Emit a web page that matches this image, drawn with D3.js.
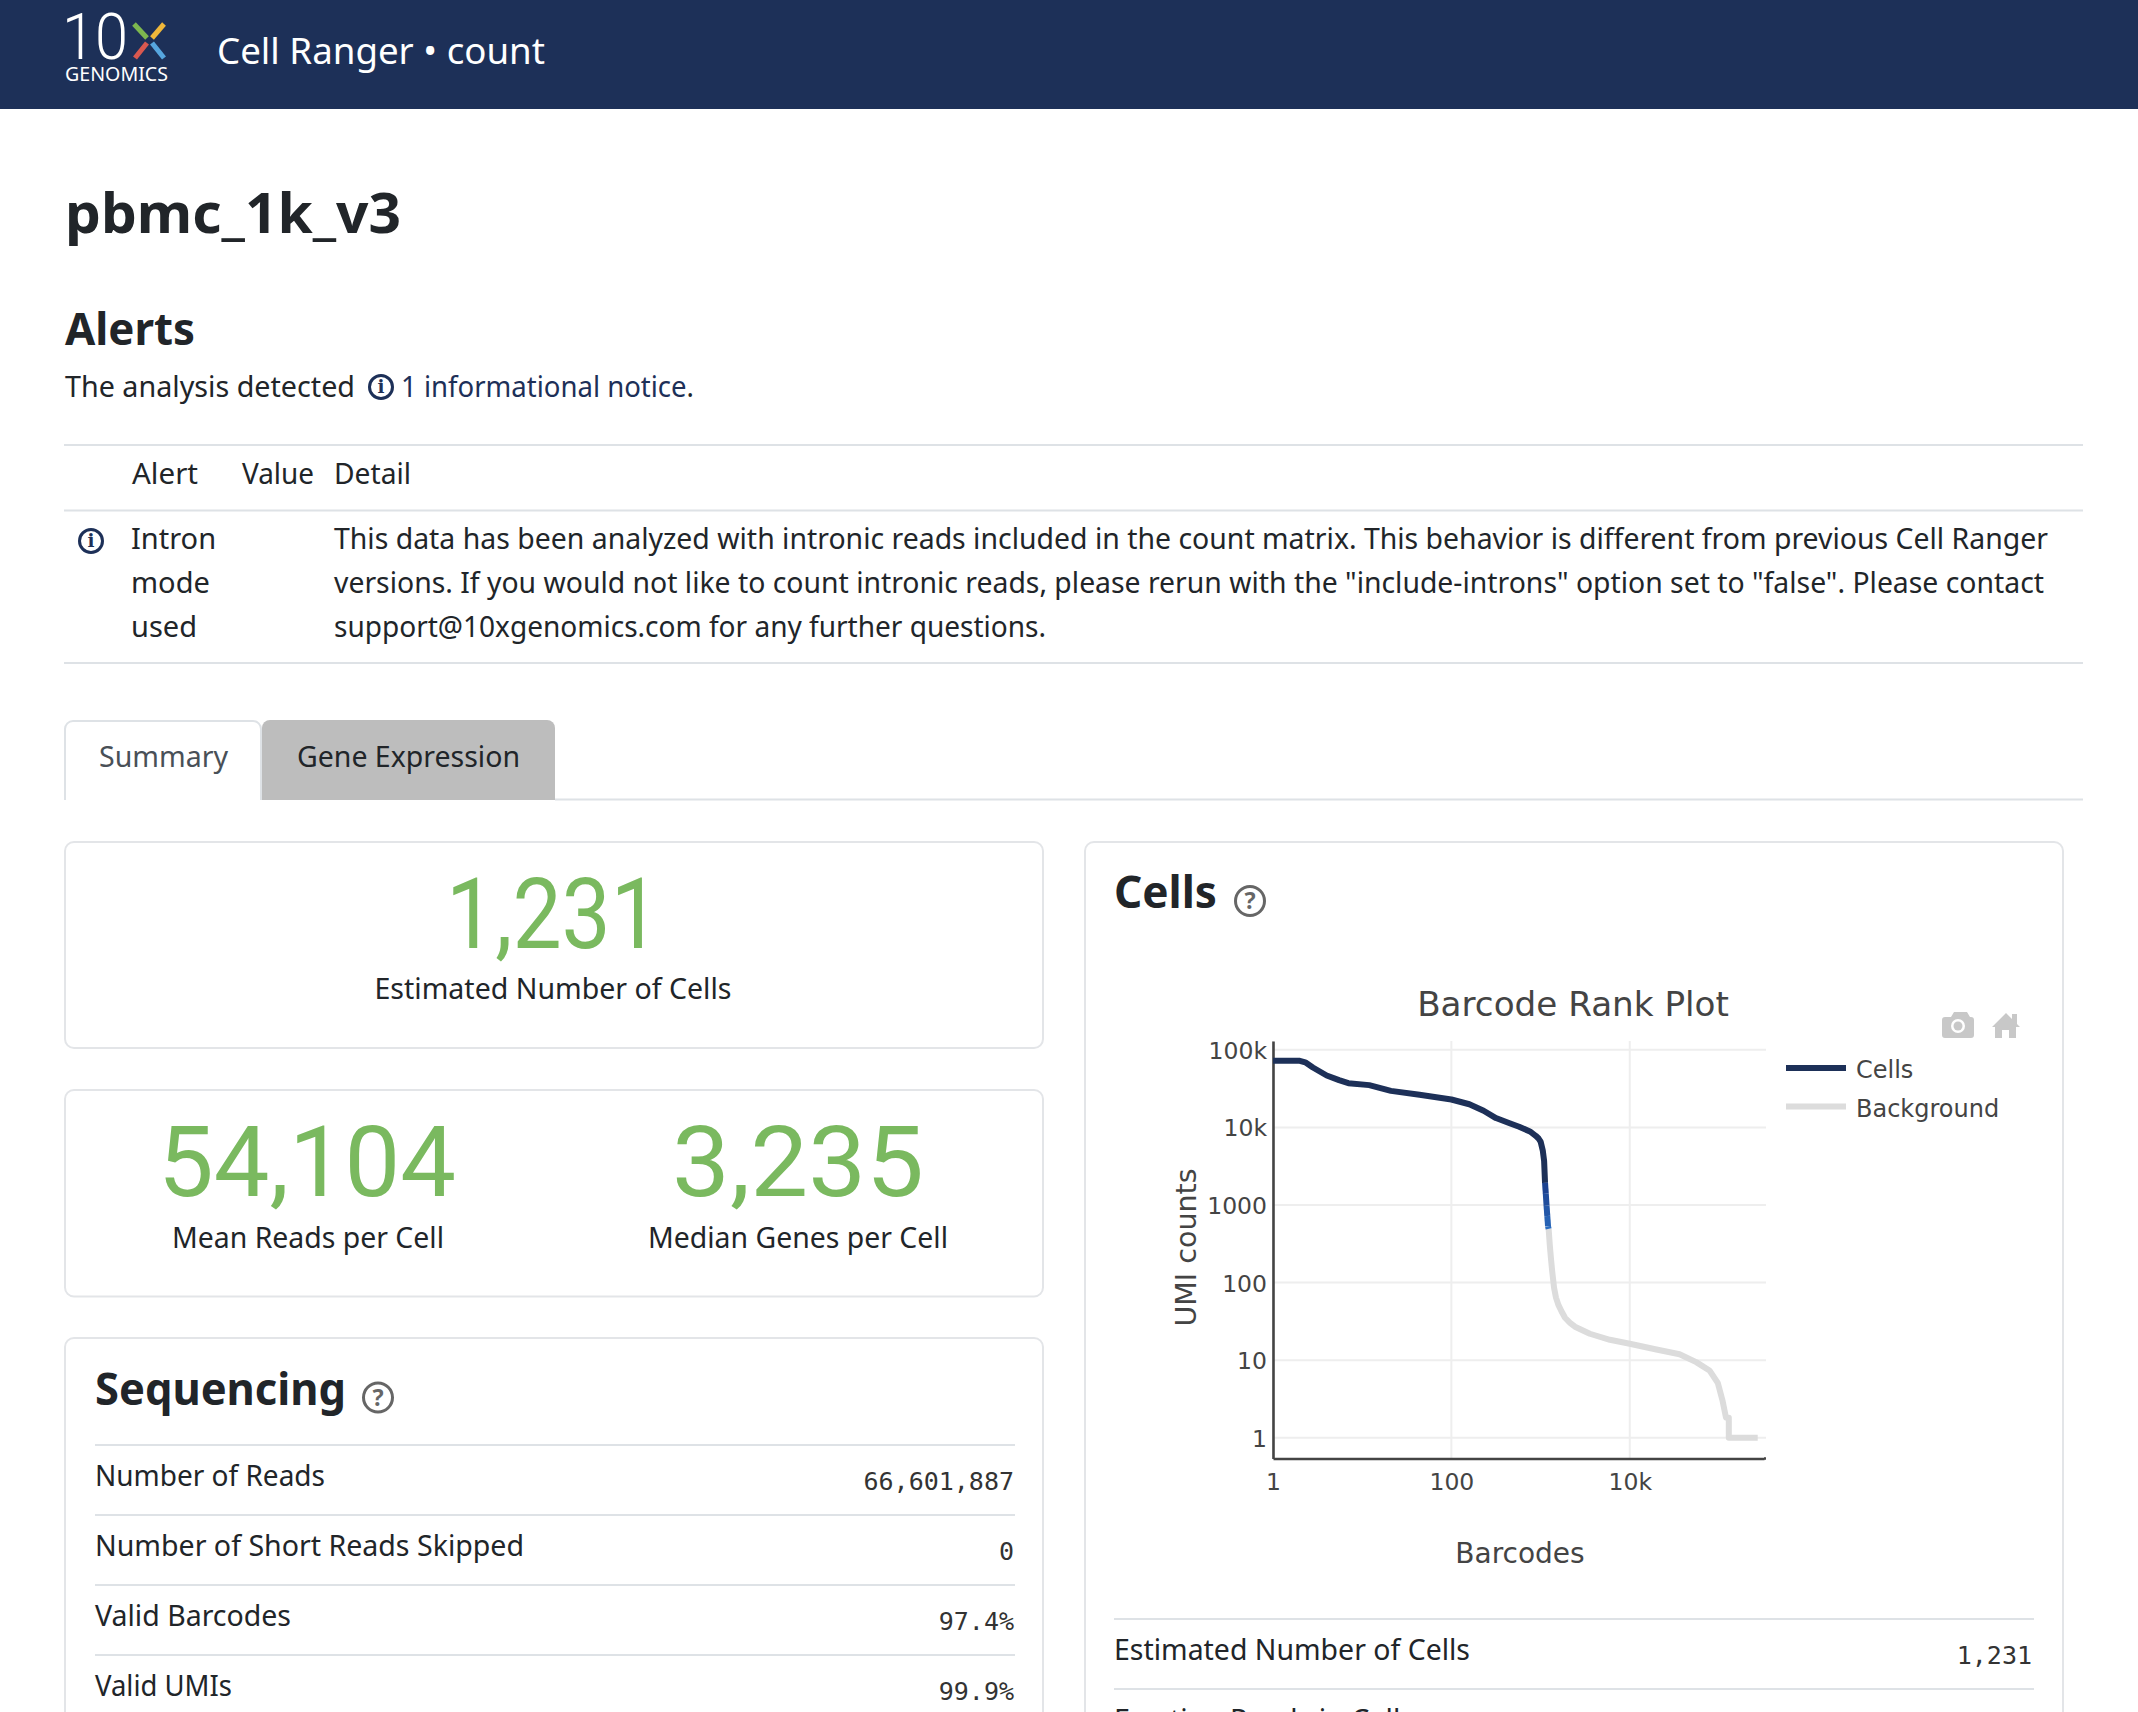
<!DOCTYPE html>
<html>
<head>
<meta charset="utf-8">
<title>pbmc_1k_v3</title>
<script src="https://cdn.jsdelivr.net/npm/d3@7"></script>
<style>
    html, body { margin: 0; padding: 0; background: #fff; overflow: hidden; }
    svg { display: block; }
</style>
</head>
<body>
<script>
// barcode rank curve
const cellsRank = [1, 2, 2.3, 2.8, 4, 5.5, 7, 12, 21, 44, 100, 159, 230, 316, 450, 575, 760, 883, 950, 1004, 1060, 1096, 1122]
const cellsUmi = [72100, 72100, 69000, 59200, 46700, 40700, 37200, 35100, 29600, 26300, 22900, 19900, 16400, 13200, 11300, 10200, 8870, 7800, 7200, 6500, 5000, 3715, 1932]
const mixedRank = [1122, 1145, 1167, 1190, 1213, 1231]
const mixedUmi = [1932, 1400, 977, 720, 530, 493]
const backgroundRank = [1231, 1270, 1310, 1350, 1416, 1489, 1580, 1710, 1880, 2140, 2430, 3570, 5990, 10000, 19900, 36200, 55600, 78300, 97000, 110000, 120000, 129000, 129000, 272000]
const backgroundUmi = [493, 300, 200, 140, 86, 64, 52, 43, 35.2, 30.3, 27, 21.9, 18.3, 16.3, 13.7, 11.9, 9.44, 7.37, 5.1, 2.97, 1.81, 1.81, 1, 1]

const xTicks = [1, 100, 10000]
const xTickLabels = ["1", "100", "10k"]
const yTicks = [1, 10, 100, 1000, 10000, 100000]
const yTickLabels = ["1", "10", "100", "1000", "10k", "100k"]
const legendNames = ["Cells", "Background"]

const sequencingLabels = ["Number of Reads", "Number of Short Reads Skipped", "Valid Barcodes", "Valid UMIs"]
const sequencingValues = ["66,601,887", "0", "97.4%", "99.9%"]
const sequencingWidths = [230, 429, 196, 137]
const cellsLabels = ["Estimated Number of Cells", "Fraction Reads in Cells"]
const cellsValues = ["1,231", ""]
const detailLines = [
    "This data has been analyzed with intronic reads included in the count matrix. This behavior is different from previous Cell Ranger",
    "versions. If you would not like to count intronic reads, please rerun with the \"include-introns\" option set to \"false\". Please contact",
    "support@10xgenomics.com for any further questions."
]
const detailWidths = [1714, 1710, 712]
const introLines = ["Intron", "mode", "used"]

const navy = "#1d3058"
const ink = "#212529"
const rule = "#dee2e6"
const green = "#7ab95f"
const bodyFont = "'Noto Sans', sans-serif"
const monoFont = "'DejaVu Sans Mono', monospace"
const plotFont = "'DejaVu Sans', sans-serif"
const bigFont = "'Roboto', sans-serif"

const svg = d3.select("body").append("svg").attr("width", 2138).attr("height", 1712)
svg.append("rect").attr("width", 2138).attr("height", 1712).attr("fill", "#fff")

function label(x, y, str, o = {}) {
    const t = svg.append("text")
        .attr("x", x).attr("y", y)
        .attr("font-family", o.font || bodyFont)
        .attr("font-size", o.size || 29)
        .attr("font-weight", o.weight || 400)
        .attr("fill", o.fill || ink)
        .attr("text-anchor", o.anchor || "start")
        .text(str)
    if (o.width) t.attr("textLength", o.width).attr("lengthAdjust", "spacingAndGlyphs")
    return t
}

function hline(x1, x2, y, color = rule, w = 2) {
    svg.append("line").attr("x1", x1).attr("x2", x2).attr("y1", y).attr("y2", y)
        .attr("stroke", color).attr("stroke-width", w)
}

function badge(cx, cy, r, mark, color, w) {
    svg.append("circle").attr("cx", cx).attr("cy", cy).attr("r", r)
        .attr("fill", "none").attr("stroke", color).attr("stroke-width", w)
    label(cx, cy + r * 0.56, mark, { size: r * 1.6, weight: 700, fill: color, anchor: "middle", font: mark === "i" ? "'DejaVu Serif', serif" : bodyFont })
}

function card(x, y, w, h) {
    svg.append("rect").attr("x", x).attr("y", y).attr("width", w).attr("height", h).attr("rx", 9)
        .attr("fill", "#fff").attr("stroke", "#e3e5e8").attr("stroke-width", 2)
}

// header bar and logo
svg.append("rect").attr("width", 2138).attr("height", 109).attr("fill", navy)
label(62, 59, "10", { size: 65, weight: 300, fill: "#fff", width: 66, font: bigFont })
const logoLegs = [
    [134, 24, 147, 38, "#7db84f"], [164, 24, 152, 38, "#efb73a"],
    [147, 43, 135, 58, "#d9584f"], [152, 43, 164, 58, "#56a6df"]
]
svg.selectAll("line.leg").data(logoLegs).enter().append("line")
    .attr("class", "leg")
    .attr("x1", d => d[0]).attr("y1", d => d[1]).attr("x2", d => d[2]).attr("y2", d => d[3])
    .attr("stroke", d => d[4]).attr("stroke-width", 5)
label(65, 81, "GENOMICS", { size: 20, fill: "#fff", width: 103 })
label(217, 63.5, "Cell Ranger • count", { size: 37, fill: "#fff", width: 328 })

// sample title and alerts
label(65, 232.5, "pbmc_1k_v3", { size: 56, weight: 700, width: 336 })
label(65, 344.5, "Alerts", { size: 44, weight: 700, width: 130 })
label(65, 396.5, "The analysis detected", { width: 290 })
badge(381, 387, 11.5, "i", navy, 3)
const notice = label(401, 396.5, "", { width: 293 })
notice.append("tspan").attr("fill", navy).text("1 informational notice")
notice.append("tspan").text(".")

hline(64, 2083, 445)
hline(64, 2083, 510.5)
hline(64, 2083, 663)
label(132, 484, "Alert", { width: 66 })
label(242, 484, "Value", { width: 72 })
label(334, 484, "Detail", { width: 77 })
badge(91, 541, 11.5, "i", navy, 3)
introLines.forEach((s, i) => label(131, 548.5 + i * 44, s))
detailLines.forEach((s, i) => label(334, 548.5 + i * 44, s, { width: detailWidths[i] }))

// tabs
hline(555, 2083, 799.5)
svg.append("path").attr("d", "M65,800V729a8,8 0 0 1 8,-8H253a8,8 0 0 1 8,8V800")
    .attr("fill", "#fff").attr("stroke", rule).attr("stroke-width", 2)
svg.append("path").attr("d", "M262,800V728a8,8 0 0 1 8,-8H547a8,8 0 0 1 8,8V800Z").attr("fill", "#bdbdbd")
label(99, 766.5, "Summary", { fill: "#495057", width: 129 })
label(297, 766.5, "Gene Expression", { width: 223 })

// metric cards
card(65, 842, 978, 206)
label(553, 948, "1,231", { size: 98, fill: green, anchor: "middle", width: 214, font: bigFont })
label(553, 998.5, "Estimated Number of Cells", { anchor: "middle", width: 357 })
card(65, 1090, 978, 206.5)
label(307, 1196, "54,104", { size: 98, fill: green, anchor: "middle", width: 298, font: bigFont })
label(308, 1248, "Mean Reads per Cell", { anchor: "middle", width: 272 })
label(798, 1196, "3,235", { size: 98, fill: green, anchor: "middle", width: 252, font: bigFont })
label(798, 1248, "Median Genes per Cell", { anchor: "middle", width: 300 })

// sequencing table
card(65, 1338, 978, 420)
label(95, 1404.5, "Sequencing", { size: 44, weight: 700, width: 251 })
badge(378, 1397.5, 14.5, "?", "#666", 3)
sequencingLabels.forEach((s, i) => {
    const top = 1445 + i * 70
    hline(95, 1015, top)
    label(95, top + 41, s, { width: sequencingWidths[i] })
    label(1014, top + 44.5, sequencingValues[i], { anchor: "end", font: monoFont, size: 25, fill: "#333" })
})

// cells card
card(1085, 842, 978, 920)
label(1114, 908, "Cells", { size: 44, weight: 700, width: 103 })
badge(1250, 901, 14.5, "?", "#666", 3)
cellsLabels.forEach((s, i) => {
    const top = 1619 + i * 70
    hline(1114, 2034, top)
    label(1114, top + 41, s, { width: i === 0 ? 356 : 300 })
    label(2032, top + 44.5, cellsValues[i], { anchor: "end", font: monoFont, size: 25, fill: "#333" })
})

// barcode rank plot
const x = d3.scaleLog().domain([1, 320000]).range([1273, 1764])
const y = d3.scaleLog().domain([0.54, 130000]).range([1458.5, 1041])

const plot = svg.append("g")
plot.selectAll("line.gx").data(xTicks).enter().append("line")
    .attr("class", "gx")
    .attr("x1", d => x(d)).attr("x2", d => x(d)).attr("y1", y.range()[1]).attr("y2", y.range()[0])
    .attr("stroke", "#eee").attr("stroke-width", 2)
plot.selectAll("line.gy").data(yTicks).enter().append("line")
    .attr("class", "gy")
    .attr("x1", x.range()[0]).attr("x2", 1766).attr("y1", d => y(d)).attr("y2", d => y(d))
    .attr("stroke", "#eee").attr("stroke-width", 2)

const xAxis = d3.axisBottom(x).tickValues(xTicks).tickFormat((d, i) => xTickLabels[i]).tickSize(0).tickPadding(15)
const yAxis = d3.axisLeft(y).tickValues(yTicks).tickFormat((d, i) => yTickLabels[i]).tickSize(0).tickPadding(6)
const gx = plot.append("g").attr("transform", `translate(0,${y.range()[0]})`).call(xAxis)
const gy = plot.append("g").attr("transform", `translate(${x.range()[0]},0)`).call(yAxis)
;[gx, gy].forEach(g => {
    g.attr("font-family", plotFont).attr("font-size", 23.5)
    g.selectAll("text").attr("fill", "#444")
    g.select(".domain").attr("stroke", "#444").attr("stroke-width", 2.6)
})
gy.selectAll("text").attr("dy", "0.36em")
hline(1764, 1766, y.range()[0], "#444", 2.6)

const line = d3.line().x(d => x(d[0])).y(d => y(d[1]))
const lineStyle = sel => sel.attr("fill", "none").attr("stroke-width", 6)
    .attr("stroke-linejoin", "round").attr("stroke-linecap", "butt")

plot.append("path").datum(d3.zip(backgroundRank, backgroundUmi)).call(lineStyle)
    .attr("stroke", "#dcdcdc").attr("d", line)
plot.append("path").datum(d3.zip(cellsRank, cellsUmi)).call(lineStyle)
    .attr("stroke", navy).attr("d", line)

const mixedColor = d3.interpolateRgb("#1c4290", "#2a6cc0")
const mixedPairs = d3.pairs(d3.zip(mixedRank, mixedUmi))
plot.selectAll("path.mixed").data(mixedPairs).enter().append("path")
    .attr("class", "mixed").call(lineStyle)
    .attr("stroke", (d, i) => mixedColor(i / (mixedPairs.length - 1)))
    .attr("d", line)

label(1573, 1016, "Barcode Rank Plot", { font: plotFont, size: 34.2, fill: "#444", anchor: "middle" })
label(1520, 1562.5, "Barcodes", { font: plotFont, size: 28, fill: "#444", anchor: "middle" })
label(0, 0, "UMI counts", { font: plotFont, size: 28.5, fill: "#444", anchor: "middle" })
    .attr("transform", "translate(1196,1247.5) rotate(-90)")

// legend
const legendColors = [navy, "#dcdcdc"]
legendNames.forEach((s, i) => {
    const ly = 1068 + i * 38.5
    hline(1786, 1846, ly, legendColors[i], 6)
    label(1856, ly + 10, s, { font: plotFont, size: 24, fill: "#444" })
})

// modebar icons
const camera = svg.append("g").attr("fill", "#c8c8c8")
camera.append("path").attr("d", "M1945,1017h6l3,-5h13l3,5h1a3,3 0 0 1 3,3v15a3,3 0 0 1 -3,3h-26a3,3 0 0 1 -3,-3v-15a3,3 0 0 1 3,-3Z")
camera.append("circle").attr("cx", 1958).attr("cy", 1026).attr("r", 7).attr("fill", "#fff")
camera.append("circle").attr("cx", 1958).attr("cy", 1026).attr("r", 4.5)
svg.append("path").attr("fill", "#c8c8c8")
    .attr("d", "M1992,1027l14,-14l6,6v-5h5v10l3,3h-4v11h-7v-8h-7v8h-7v-11Z")
</script>
</body>
</html>
